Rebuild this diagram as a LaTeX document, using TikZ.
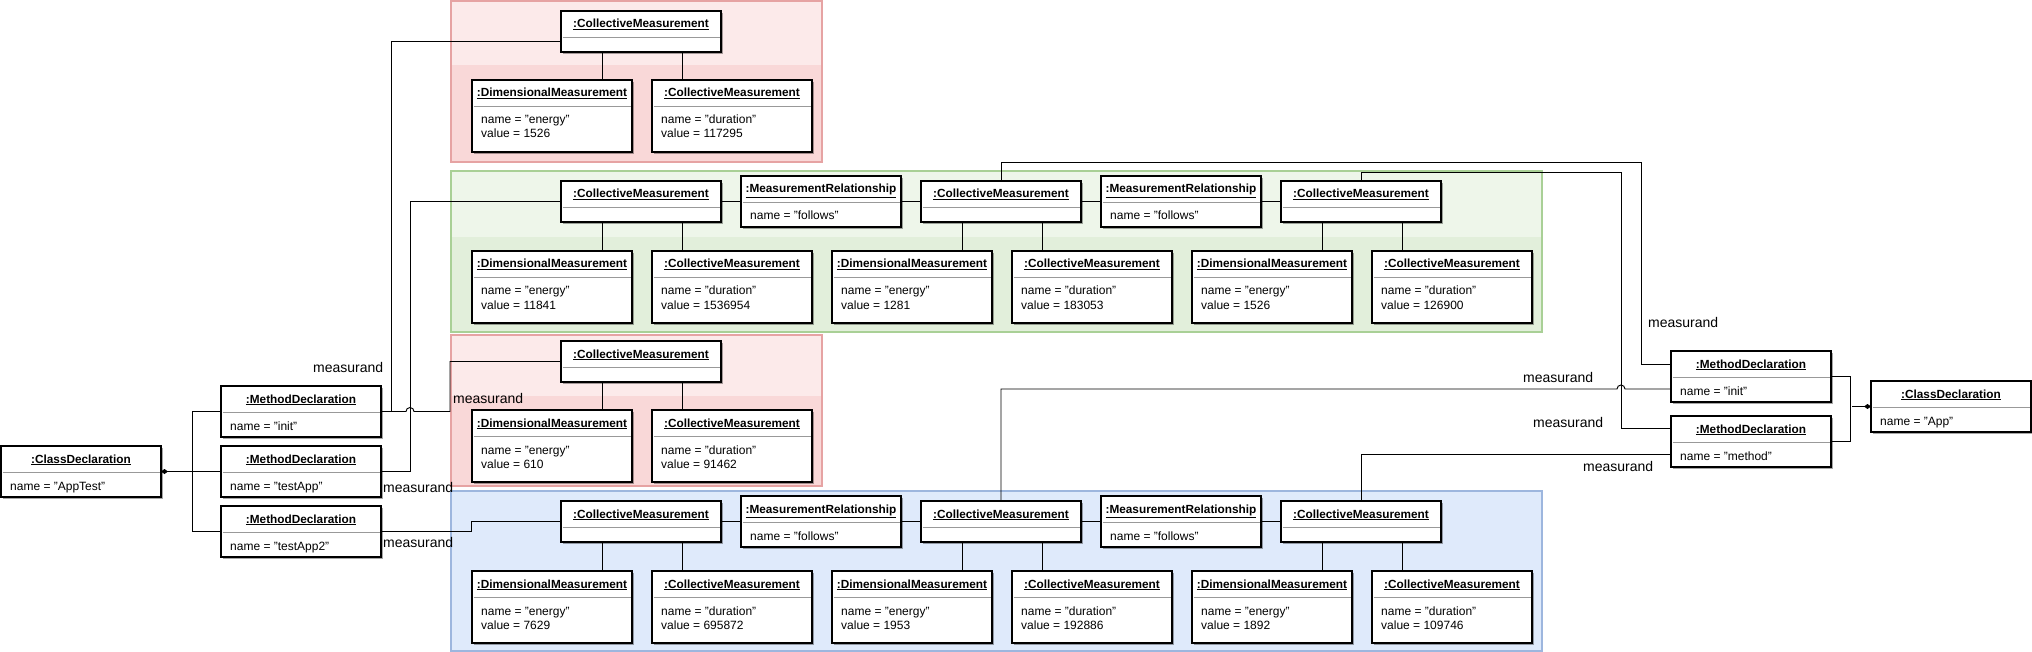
\documentclass[tikz,border=0pt]{standalone}
\usepackage{fontspec}
\setmainfont{Liberation Sans}
\usetikzlibrary{arrows.meta,shadows,calc}
\pgfdeclarelayer{cont}
\pgfdeclarelayer{wires}
\pgfsetlayers{cont,wires,main}
\definecolor{redfill}{HTML}{F9D8D8}
\definecolor{redlight}{HTML}{FCEAEA}
\definecolor{redborder}{HTML}{E6A3A3}
\definecolor{greenfill}{HTML}{E2EFDB}
\definecolor{greenlight}{HTML}{EEF6EA}
\definecolor{greenborder}{HTML}{A9D096}
\definecolor{bluefill}{HTML}{DFEAFB}
\definecolor{blueborder}{HTML}{9DB6DE}
\tikzset{
 obj/.style={draw=black,line width=1.6pt,fill=white,minimum width=160pt,inner sep=0pt,outer sep=0pt,anchor=north west,
   drop shadow={shadow xshift=2pt,shadow yshift=-2pt,opacity=0.35,fill=black}},
 conn/.style={draw=black,line width=0.95pt},
 comp/.style={conn,{Diamond[length=7pt,width=5pt]}-},
 div/.style={draw=black!40,line width=0.8pt},
 ttl/.style={anchor=base,inner sep=0pt,font=\bfseries\fontsize{11.8}{14}\selectfont},
 att/.style={anchor=base west,inner sep=0pt,font=\fontsize{12}{14}\selectfont},
 lbl/.style={anchor=west,inner sep=0pt,font=\fontsize{14}{16}\selectfont},
}
\newcommand\umlobj[7]{%
 \node[obj,minimum height=#4pt] (#1) at (#2,#3) {};
 \draw[div] ($(#1.north west)+(1.5,26)$) -- ($(#1.north east)+(-1.5,26)$);
 \node[ttl] at ($(#1.north)+(0,17)$) {\underline{#5}};
 \if\relax\detokenize{#6}\relax\else\node[att] at ($(#1.north west)+(9,44)$) {#6};\fi
 \if\relax\detokenize{#7}\relax\else\node[att] at ($(#1.north west)+(9,58)$) {#7};\fi
}
\newcommand\leaflinks[3]{%
 \draw[conn] ($(#1.south west)+(41,0)$) coordinate (tmpa) -- (tmpa |- #2.north);
 \draw[conn] ($(#1.south west)+(121,0)$) coordinate (tmpb) -- (tmpb |- #3.north);
}
\begin{document}
\begin{tikzpicture}[x=1pt,y=-1pt]
\useasboundingbox (0,0) rectangle (2032,652);
% containers
\begin{pgfonlayer}{cont}
\fill[white] (0,0) rectangle (2032,652);
\fill[redfill] (451,1) rectangle (822,162);
\fill[redlight] (451,1) rectangle (822,65);
\draw[redborder,line width=1.5pt] (451,1) rectangle (822,162);
\fill[greenfill] (451,171) rectangle (1542,332);
\fill[greenlight] (451,171) rectangle (1542,237);
\draw[greenborder,line width=1.5pt] (451,171) rectangle (1542,332);
\fill[redfill] (451,335) rectangle (822,486);
\fill[redlight] (451,335) rectangle (822,396);
\draw[redborder,line width=1.5pt] (451,335) rectangle (822,486);
\fill[bluefill] (451,491) rectangle (1542,651);
\draw[blueborder,line width=1.5pt] (451,491) rectangle (1542,651);
\end{pgfonlayer}
% left side
\umlobj{cdL}{1}{446}{51}{:ClassDeclaration}{name = "AppTest"}{}
\umlobj{mdLa}{221}{386}{51}{:MethodDeclaration}{name = "init"}{}
\umlobj{mdLb}{221}{446}{51}{:MethodDeclaration}{name = "testApp"}{}
\umlobj{mdLc}{221}{506}{51}{:MethodDeclaration}{name = "testApp2"}{}
% red group 1
\umlobj{raC}{561}{11}{41}{:CollectiveMeasurement}{}{}
\umlobj{raD}{472}{80}{72}{:DimensionalMeasurement}{name = "energy"}{value = 1526}
\umlobj{raE}{652}{80}{72}{:CollectiveMeasurement}{name = "duration"}{value = 117295}
% green group
\umlobj{gC1}{561}{181}{41}{:CollectiveMeasurement}{}{}
\umlobj{gR1}{741}{176}{51}{:MeasurementRelationship}{name = "follows"}{}
\umlobj{gC2}{921}{181}{41}{:CollectiveMeasurement}{}{}
\umlobj{gR2}{1101}{176}{51}{:MeasurementRelationship}{name = "follows"}{}
\umlobj{gC3}{1281}{181}{41}{:CollectiveMeasurement}{}{}
\umlobj{gD1}{472}{251}{72}{:DimensionalMeasurement}{name = "energy"}{value = 11841}
\umlobj{gE1}{652}{251}{72}{:CollectiveMeasurement}{name = "duration"}{value = 1536954}
\umlobj{gD2}{832}{251}{72}{:DimensionalMeasurement}{name = "energy"}{value = 1281}
\umlobj{gE2}{1012}{251}{72}{:CollectiveMeasurement}{name = "duration"}{value = 183053}
\umlobj{gD3}{1192}{251}{72}{:DimensionalMeasurement}{name = "energy"}{value = 1526}
\umlobj{gE3}{1372}{251}{72}{:CollectiveMeasurement}{name = "duration"}{value = 126900}
% red group 2
\umlobj{rcC}{561}{341}{41}{:CollectiveMeasurement}{}{}
\umlobj{rcD}{472}{410}{72}{:DimensionalMeasurement}{name = "energy"}{value = 610}
\umlobj{rcE}{652}{410}{72}{:CollectiveMeasurement}{name = "duration"}{value = 91462}
% blue group
\umlobj{bC1}{561}{501}{41}{:CollectiveMeasurement}{}{}
\umlobj{bR1}{741}{496}{51}{:MeasurementRelationship}{name = "follows"}{}
\umlobj{bC2}{921}{501}{41}{:CollectiveMeasurement}{}{}
\umlobj{bR2}{1101}{496}{51}{:MeasurementRelationship}{name = "follows"}{}
\umlobj{bC3}{1281}{501}{41}{:CollectiveMeasurement}{}{}
\umlobj{bD1}{472}{571}{72}{:DimensionalMeasurement}{name = "energy"}{value = 7629}
\umlobj{bE1}{652}{571}{72}{:CollectiveMeasurement}{name = "duration"}{value = 695872}
\umlobj{bD2}{832}{571}{72}{:DimensionalMeasurement}{name = "energy"}{value = 1953}
\umlobj{bE2}{1012}{571}{72}{:CollectiveMeasurement}{name = "duration"}{value = 192886}
\umlobj{bD3}{1192}{571}{72}{:DimensionalMeasurement}{name = "energy"}{value = 1892}
\umlobj{bE3}{1372}{571}{72}{:CollectiveMeasurement}{name = "duration"}{value = 109746}
% right side
\umlobj{mdRa}{1671}{351}{51}{:MethodDeclaration}{name = "init"}{}
\umlobj{mdRb}{1671}{416}{51}{:MethodDeclaration}{name = "method"}{}
\umlobj{cdR}{1871}{381}{51}{:ClassDeclaration}{name = "App"}{}
% connectors
\begin{pgfonlayer}{wires}
\leaflinks{raC}{raD}{raE}
\leaflinks{gC1}{gD1}{gE1}
\leaflinks{gC2}{gD2}{gE2}
\leaflinks{gC3}{gD3}{gE3}
\leaflinks{rcC}{rcD}{rcE}
\leaflinks{bC1}{bD1}{bE1}
\leaflinks{bC2}{bD2}{bE2}
\leaflinks{bC3}{bD3}{bE3}
\draw[conn] (gC1.east) -- (gR1.west);
\draw[conn] (gR1.east) -- (gC2.west);
\draw[conn] (gC2.east) -- (gR2.west);
\draw[conn] (gR2.east) -- (gC3.west);
\draw[conn] (bC1.east) -- (bR1.west);
\draw[conn] (bR1.east) -- (bC2.west);
\draw[conn] (bC2.east) -- (bR2.west);
\draw[conn] (bR2.east) -- (bC3.west);
% left composition
\draw[conn] (mdLa.west) -- ++(-29,0) |- (mdLc.west);
\draw[comp] (cdL.east) -- (mdLb.west);
% right composition
\draw[conn] (mdRa.east) -- ++(19.5,0) |- (mdRb.east);
\draw[comp] (cdR.west) -- ++(-19.5,0);
% measurand links left
\draw[conn] (mdLa.east) -- ++(10,0) |- ($(raC.north west)+(0,30)$);
\draw[conn] (mdLa.east) -- ++(25,0) arc[start angle=180,end angle=360,radius=4] -- ++(36,0) |- (rcC.west);
\draw[conn] (mdLb.east) -- ++(29,0) |- (gC1.west);
\draw[conn] (mdLc.east) -- ++(90,0) |- (bC1.west);
% measurand links right
\draw[conn] (gC2.north) |- (1641,162) |- ($(mdRa.north west)+(0,13)$);
\draw[conn] (gC3.north) |- (1621,172) |- ($(mdRb.north west)+(0,12)$);
\draw[conn] (bC2.north) |- (1617,389) arc[start angle=180,end angle=360,radius=4] -- ($(mdRa.north west)+(0,38)$);
\draw[conn] (bC3.north) |- ($(mdRb.north west)+(0,38)$);
\end{pgfonlayer}
% labels
\node[lbl] (m1) at (313,367) {measurand};
\node[lbl] (m2) at (453,398) {measurand};
\node[lbl] (m3) at (383,487) {measurand};
\node[lbl] (m4) at (383,542) {measurand};
\node[lbl] (m5) at (1648,322) {measurand};
\node[lbl] (m6) at (1523,377) {measurand};
\node[lbl] (m7) at (1533,422) {measurand};
\node[lbl] (m8) at (1583,466) {measurand};
\end{tikzpicture}
\end{document}
